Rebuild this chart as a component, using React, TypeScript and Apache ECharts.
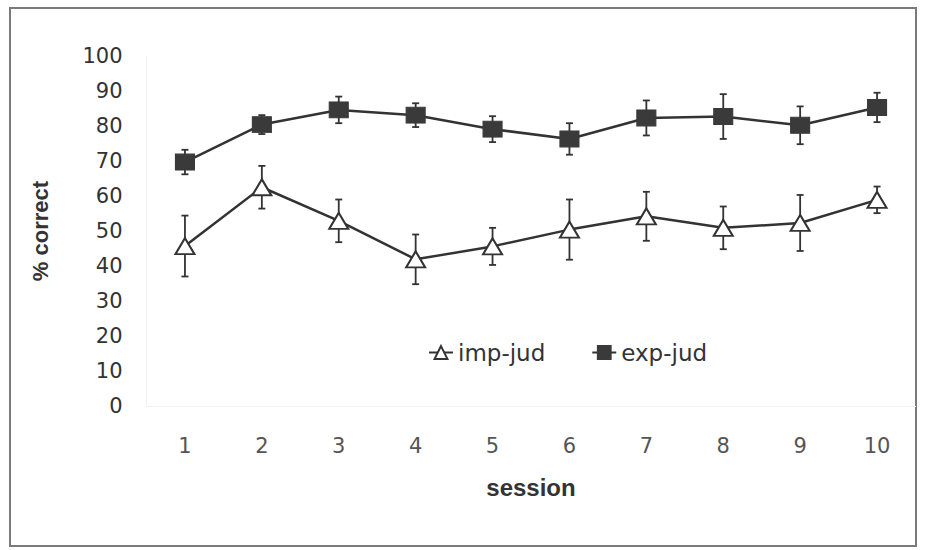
import React, { useEffect, useRef } from "react";
import * as echarts from "echarts";

const sessions = ["1", "2", "3", "4", "5", "6", "7", "8", "9", "10"];
const impJud = [45.7, 62.5, 52.9, 41.9, 45.6, 50.4, 54.2, 50.9, 52.3, 58.9];
const impErr = [8.7, 6.1, 6.1, 7.1, 5.3, 8.6, 7.0, 6.1, 8.0, 3.8];
const expJud = [69.7, 80.4, 84.6, 83.1, 79.1, 76.3, 82.3, 82.7, 80.2, 85.3];
const expErr = [3.5, 2.7, 3.8, 3.4, 3.7, 4.5, 5.0, 6.4, 5.4, 4.2];
const yTicks = { min: 0, max: 100, interval: 10 };

const FONT = "'Liberation Sans', Arial, sans-serif";
const WIDE = "'DejaVu Sans', sans-serif";
const INK = "#333333";

function errorSeries(name: string, vals: number[], errs: number[]) {
  return {
    type: "custom",
    name: name + "-err",
    z: 1,
    silent: true,
    renderItem: (params: any, api: any) => {
      const x = api.value(0);
      const lo = api.coord([x, api.value(1)]);
      const hi = api.coord([x, api.value(2)]);
      const cap = 3.5;
      const style = { stroke: INK, lineWidth: 1.8 };
      return {
        type: "group",
        children: [
          { type: "line", shape: { x1: hi[0], y1: hi[1], x2: lo[0], y2: lo[1] }, style },
          { type: "line", shape: { x1: hi[0] - cap, y1: hi[1], x2: hi[0] + cap, y2: hi[1] }, style },
          { type: "line", shape: { x1: lo[0] - cap, y1: lo[1], x2: lo[0] + cap, y2: lo[1] }, style },
        ],
      };
    },
    encode: { x: 0, y: [1, 2] },
    data: vals.map((v, i) => [i, v - errs[i], v + errs[i]]),
  };
}

export default function App() {
  const ref = useRef<HTMLDivElement>(null);
  useEffect(() => {
    if (!ref.current) return;
    const chart = echarts.init(ref.current, undefined, { renderer: "svg" });
    chart.setOption({
      animation: false,
      backgroundColor: "#ffffff",
      graphic: [
        {
          type: "rect",
          shape: { x: 10, y: 8, width: 906, height: 538 },
          style: { fill: "none", stroke: "#7a7a7a", lineWidth: 2 },
          z: -1,
        },
      ],
      grid: { left: 146.5, right: 9.5, top: 56, bottom: 144 },
      legend: {
        left: 423,
        top: 336,
        itemWidth: 24,
        itemHeight: 16,
        itemGap: 46,
        textStyle: { fontFamily: WIDE, fontSize: 23, color: INK },
        data: ["imp-jud", "exp-jud"],
      },
      xAxis: {
        type: "category",
        data: sessions,
        boundaryGap: true,
        name: "session",
        nameLocation: "middle",
        nameGap: 69,
        nameTextStyle: { fontFamily: FONT, fontSize: 24, fontWeight: "bold", color: INK },
        axisLine: { show: true, lineStyle: { color: "#f2f2f2" } },
        axisTick: { show: false },
        axisLabel: { fontFamily: WIDE, fontSize: 21, color: "#555555", margin: 29 },
        splitLine: { show: false },
      },
      yAxis: {
        type: "value",
        min: yTicks.min,
        max: yTicks.max,
        interval: yTicks.interval,
        name: "% correct",
        nameLocation: "middle",
        nameGap: 95,
        nameRotate: 90,
        nameTextStyle: { fontFamily: FONT, fontSize: 22, fontWeight: "bold", color: INK },
        axisLine: { show: true, lineStyle: { color: "#f2f2f2" } },
        axisTick: { show: false },
        axisLabel: { fontFamily: WIDE, fontSize: 21, color: INK, margin: 24 },
        splitLine: { show: false },
      },
      series: [
        errorSeries("imp-jud", impJud, impErr),
        errorSeries("exp-jud", expJud, expErr),
        {
          type: "line",
          name: "imp-jud",
          data: impJud,
          z: 3,
          symbol: "triangle",
          symbolSize: [19, 16],
          lineStyle: { color: INK, width: 2.5 },
          itemStyle: { color: "#ffffff", borderColor: INK, borderWidth: 2 },
        },
        {
          type: "line",
          name: "exp-jud",
          data: expJud,
          z: 3,
          symbol: "rect",
          symbolSize: [19, 16],
          lineStyle: { color: INK, width: 2.5 },
          itemStyle: { color: "#3a3a3a", borderColor: "#3a3a3a", borderWidth: 1 },
        },
      ],
    });
    return () => chart.dispose();
  }, []);
  return (
    <div
      ref={ref}
      style={{ position: "fixed", left: 0, top: 0, width: 925, height: 550 }}
    />
  );
}
